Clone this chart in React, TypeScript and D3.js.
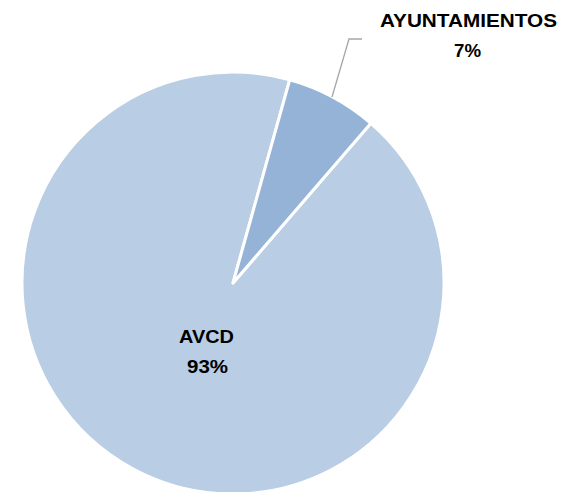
import React from "react";
import * as d3 from "d3";

const categories = ["AVCD", "AYUNTAMIENTOS"];
const values = [93, 7];
const labels = ["93%", "7%"];
const colors = ["#B9CDE5", "#95B3D7"];

export default function App() {
  const W = 566, H = 492;
  const cx = 233, cy = 283, r = 211;
  const startDeg = 15.6 + 360 * 0.07; // AVCD starts where AYUNTAMIENTOS ends
  const start = (startDeg * Math.PI) / 180;
  const pie = d3.pie<number>().sort(null).startAngle(start).endAngle(start + 2 * Math.PI);
  const arcs = pie(values);
  const arc = d3.arc<d3.PieArcDatum<number>>().innerRadius(0).outerRadius(r);
  const font = "Liberation Sans, Arial, sans-serif";
  return (
    <svg width={W} height={H} style={{ position: "absolute", left: 0, top: 0 }}>
      <rect width={W} height={H} fill="#fff" />
      <g transform={`translate(${cx},${cy})`}>
        {arcs.map((a, i) => (
          <path key={categories[i]} d={arc(a) as string} fill={colors[i]} stroke="#fff" strokeWidth={3} strokeLinejoin="round" />
        ))}
      </g>
      <polyline points="332,97 349,39 362,39" fill="none" stroke="#A6A6A6" strokeWidth={1.3} />
      <g fontFamily={font} fontWeight="bold" fontSize={19} fill="#000" textAnchor="middle">
        <text x={468.5} y={27} textLength={177} lengthAdjust="spacingAndGlyphs">{categories[1]}</text>
        <text x={467.5} y={57} textLength={27} lengthAdjust="spacingAndGlyphs">{labels[1]}</text>
        <text x={206.5} y={343} textLength={55} lengthAdjust="spacingAndGlyphs">{categories[0]}</text>
        <text x={207.5} y={373} textLength={41} lengthAdjust="spacingAndGlyphs">{labels[0]}</text>
      </g>
    </svg>
  );
}
